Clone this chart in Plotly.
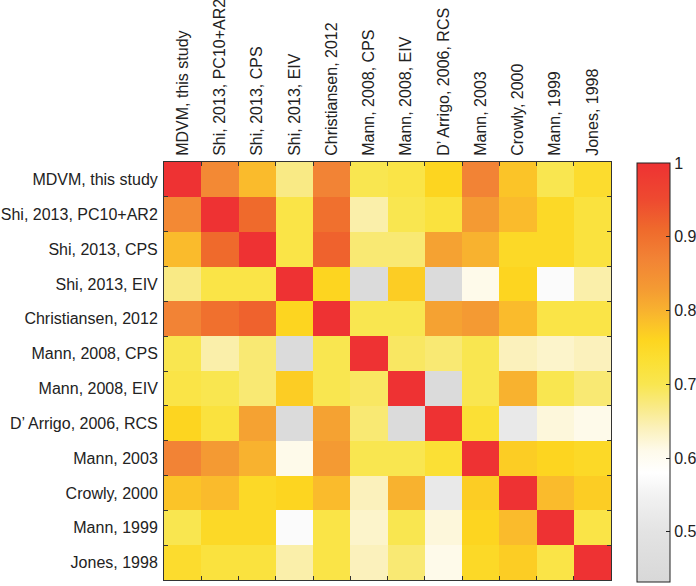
import plotly.graph_objects as go

labels = ["MDVM, this study", "Shi, 2013, PC10+AR2", "Shi, 2013, CPS", "Shi, 2013, EIV",
          "Christiansen, 2012", "Mann, 2008, CPS", "Mann, 2008, EIV", "D\u2019 Arrigo, 2006, RCS",
          "Mann, 2003", "Crowly, 2000", "Mann, 1999", "Jones, 1998"]

r_mdvm   = [1.00, 0.86, 0.79, 0.67, 0.87, 0.70, 0.71, 0.76, 0.87, 0.78, 0.70, 0.74]
r_shi_pc = [0.86, 1.00, 0.91, 0.71, 0.90, 0.65, 0.70, 0.72, 0.83, 0.79, 0.75, 0.72]
r_shi_cp = [0.79, 0.91, 1.00, 0.71, 0.92, 0.68, 0.68, 0.82, 0.80, 0.75, 0.75, 0.72]
r_shi_ei = [0.67, 0.71, 0.71, 1.00, 0.76, 0.45, 0.77, 0.45, 0.61, 0.76, 0.57, 0.65]
r_chr    = [0.87, 0.90, 0.92, 0.76, 1.00, 0.70, 0.70, 0.82, 0.83, 0.79, 0.71, 0.71]
r_m08c   = [0.70, 0.65, 0.68, 0.45, 0.70, 1.00, 0.69, 0.68, 0.70, 0.64, 0.63, 0.64]
r_m08e   = [0.71, 0.70, 0.68, 0.77, 0.70, 0.69, 1.00, 0.45, 0.70, 0.80, 0.70, 0.68]
r_darr   = [0.76, 0.72, 0.82, 0.45, 0.82, 0.68, 0.45, 1.00, 0.73, 0.52, 0.62, 0.61]
r_m03    = [0.87, 0.83, 0.80, 0.61, 0.83, 0.70, 0.70, 0.73, 1.00, 0.77, 0.76, 0.75]
r_cro    = [0.78, 0.79, 0.75, 0.76, 0.79, 0.64, 0.80, 0.52, 0.77, 1.00, 0.79, 0.77]
r_m99    = [0.70, 0.75, 0.75, 0.57, 0.71, 0.63, 0.70, 0.62, 0.76, 0.79, 1.00, 0.71]
r_jon    = [0.74, 0.72, 0.72, 0.65, 0.71, 0.64, 0.68, 0.61, 0.75, 0.77, 0.71, 1.00]

z = [r_mdvm, r_shi_pc, r_shi_cp, r_shi_ei, r_chr, r_m08c, r_m08e, r_darr, r_m03, r_cro, r_m99, r_jon]

cb_ticks = [0.5, 0.6, 0.7, 0.8, 0.9, 1.0]
cb_ticktext = ["0.5", "0.6", "0.7", "0.8", "0.9", "1"]

zmin, zmax = 0.432, 1.0
stops = [
    (0.432, "#d8d8d8"), (0.50, "#e3e3e3"), (0.55, "#f2f2f2"), (0.58, "#ffffff"),
    (0.61, "#fefaea"), (0.64, "#fbf1bc"), (0.67, "#f9ea85"), (0.70, "#f9e650"),
    (0.73, "#fbe035"), (0.76, "#fdd520"), (0.78, "#fbc428"), (0.80, "#f8b22f"),
    (0.83, "#f49a33"), (0.87, "#f28335"), (0.91, "#ef6a2c"), (0.95, "#ee4a30"),
    (1.0, "#ee3233"),
]
colorscale = [[(v - zmin) / (zmax - zmin), c] for v, c in stops]

font_family = "Liberation Sans, Arial, sans-serif"
W, H = 696, 586
L, R, T, B = 164, 85, 162, 6
plot_w = W - L - R
plot_h = H - T - B

fig = go.Figure(go.Heatmap(
    z=z, x=labels, y=labels,
    zmin=zmin, zmax=zmax, colorscale=colorscale,
    xgap=0, ygap=0,
    colorbar=dict(
        thickness=33, thicknessmode="pixels",
        len=419, lenmode="pixels",
        x=(637 - L) / plot_w, xanchor="left",
        y=(H - B - 372.5) / plot_h, yanchor="middle",
        xpad=0, ypad=0,
        outlinewidth=1, outlinecolor="#222",
        tickvals=cb_ticks, ticktext=cb_ticktext,
        ticks="inside", ticklen=4, tickcolor="#222",
        tickfont=dict(family=font_family, size=16, color="#222"),
    ),
))

fig.update_layout(
    width=W, height=H,
    margin=dict(l=L, r=R, t=T, b=B, pad=0, autoexpand=False),
    paper_bgcolor="white", plot_bgcolor="white",
    font=dict(family=font_family, size=16, color="#222"),
)
fig.update_xaxes(
    side="top", tickangle=-90, type="category", automargin=False,
    tickson="boundaries", ticks="inside", ticklen=4, tickcolor="#333",
    showline=True, linecolor="#333", linewidth=1, mirror="allticks",
    showgrid=False, zeroline=False,
    tickfont=dict(family=font_family, size=16, color="#222"),
    ticklabelstandoff=2,
)
fig.update_yaxes(
    autorange="reversed", type="category", automargin=False,
    tickson="boundaries", ticks="inside", ticklen=4, tickcolor="#333",
    showline=True, linecolor="#333", linewidth=1, mirror="allticks",
    showgrid=False, zeroline=False,
    tickfont=dict(family=font_family, size=16, color="#222"),
    ticklabelstandoff=2,
)

# remove the browser's default 8px body margin so the figure fills the window exactly
fig.write_html("out.html", config={"displayModeBar": False},
               post_script="document.body.style.margin='0px';")
